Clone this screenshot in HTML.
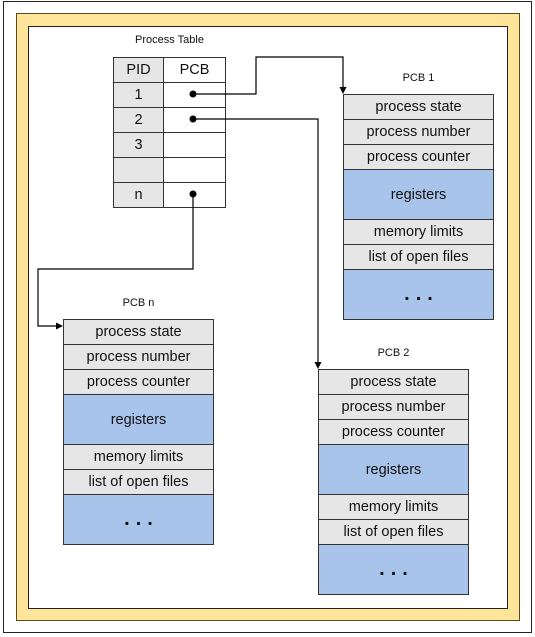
<!DOCTYPE html>
<html><head><style>
body{margin:0;width:535px;height:637px;background:#fff;position:relative;overflow:hidden;font-family:"Liberation Sans",Arial,sans-serif}
.a{position:absolute;box-sizing:border-box}
.c{position:absolute;box-sizing:border-box;border:1px solid #333;display:flex;align-items:center;justify-content:center;font-size:14.5px;color:#111}
.g{background:#e6e6e6}.b{background:#a9c4eb}.w{background:#fff}
.t{position:absolute;font-size:11px;color:#111;text-align:center}
</style></head><body>
<div class="a" style="left:3px;top:1px;width:529px;height:632px;border:1px solid #222"></div>
<div class="a" style="left:16px;top:13px;width:504px;height:608px;background:#ffe599;border:1px solid #5b4a1d"></div>
<div class="a" style="left:28px;top:26px;width:480px;height:583px;background:#fff;border:1px solid #222"></div>
<div class="t" style="left:113px;top:34px;width:113px">Process Table</div>
<div id="tbl"></div>
<script>
let h='';
const rows=['PID','1','2','3','','n'];
rows.forEach((r,i)=>{h+=`<div class="c g" style="left:113px;top:${57+i*25}px;width:51px;height:26px">${r}</div><div class="c w" style="left:163px;top:${57+i*25}px;width:63px;height:26px">${i==0?'PCB':''}</div>`});
function pcb(x,y){const it=[['process state',25,'g'],['process number',25,'g'],['process counter',25,'g'],['registers',50,'b'],['memory limits',25,'g'],['list of open files',25,'g'],['<b style="letter-spacing:6px;font-size:20px;margin-left:6px">...</b>',50,'b']];let yy=y;it.forEach(t=>{h+=`<div class="c ${t[2]}" style="left:${x}px;top:${yy}px;width:151px;height:${t[1]+1}px">${t[0]}</div>`;yy+=t[1]});}
pcb(343,94);pcb(63,319);pcb(318,369);
document.getElementById('tbl').outerHTML=h;
</script>
<div class="t" style="left:343px;top:72px;width:151px">PCB 1</div>
<div class="t" style="left:63px;top:297px;width:151px">PCB n</div>
<div class="t" style="left:318px;top:347px;width:151px">PCB 2</div>
<svg class="a" style="left:0;top:0" width="535" height="637">
<g fill="none" stroke="#000" stroke-width="1.2">
<polyline points="193,94 256,94 256,57 343,57 343,88"/>
<polyline points="193,119 318,119 318,363"/>
<polyline points="193,194 193,269 38,269 38,326 57,326"/>
</g>
<g fill="#000">
<circle cx="193" cy="94" r="3.5"/><circle cx="193" cy="119" r="3.5"/><circle cx="193" cy="194" r="3.5"/>
<polygon points="339.5,87 346.5,87 343,94"/>
<polygon points="314.5,362 321.5,362 318,369"/>
<polygon points="56,322.5 56,329.5 63,326"/>
</g></svg>
</body></html>
